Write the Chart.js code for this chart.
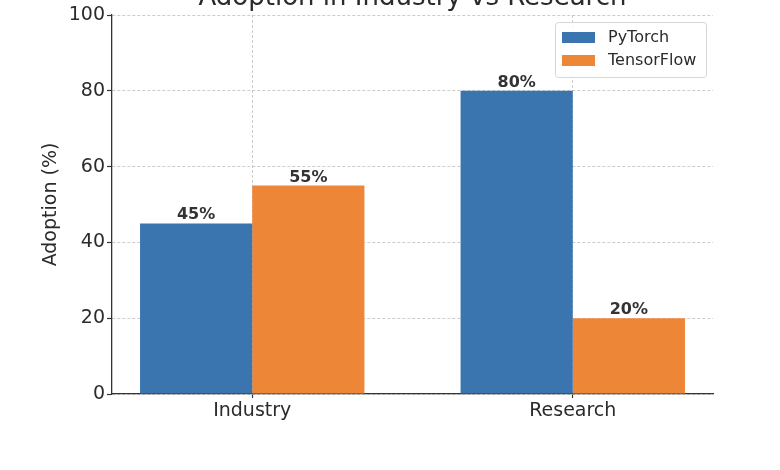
<!DOCTYPE html>
<html>
<head>
<meta charset="utf-8">
<script src="https://cdn.jsdelivr.net/npm/chart.js@4.4.0/dist/chart.umd.min.js"></script>
<style>
  html, body { margin: 0; padding: 0; background: #ffffff; }
  #wrap { width: 780px; height: 470px; }
</style>
</head>
<body>
<div id="wrap"><canvas id="adoptionChart" width="780" height="470"></canvas></div>
<script>
// categories along the x axis
const categories = ['Industry', 'Research'];
// adoption share (%) per category
const pytorchValues = [45, 80];
const tensorflowValues = [55, 20];
const seriesNames = ['PyTorch', 'TensorFlow'];
const seriesColors = ['#3a75af', '#ee8637'];
// y axis tick labels
const yTicks = [0, 20, 40, 60, 80, 100];

const chartTitle = 'Adoption in Industry vs Research';
const yTitle = 'Adoption (%)';

const FONT = '"DejaVu Sans", sans-serif';
const TEXT = '#2b2b2b';
const GRID = 'rgba(176,176,176,0.65)';

// the title sits above the canvas edge, so draw it by hand
const titlePlugin = {
  id: 'topTitle',
  afterDraw(chart) {
    const ctx = chart.ctx;
    const area = chart.chartArea;
    ctx.save();
    ctx.font = '26px ' + FONT;
    ctx.fillStyle = TEXT;
    ctx.textAlign = 'center';
    ctx.textBaseline = 'alphabetic';
    ctx.fillText(chartTitle, (area.left + area.right) / 2, 5);
    ctx.restore();
  }
};

// bold "NN%" above every bar
const valueLabels = {
  id: 'valueLabels',
  afterDatasetsDraw(chart) {
    const ctx = chart.ctx;
    ctx.save();
    ctx.font = 'bold 16px ' + FONT;
    ctx.fillStyle = '#333333';
    ctx.textAlign = 'center';
    ctx.textBaseline = 'alphabetic';
    chart.data.datasets.forEach((ds, di) => {
      const meta = chart.getDatasetMeta(di);
      meta.data.forEach((bar, i) => {
        ctx.fillText(ds.data[i].y + '%', bar.x, bar.y - 4);
      });
    });
    ctx.restore();
  }
};

// legend box inside the plot, upper right
const boxLegend = {
  id: 'boxLegend',
  afterDraw(chart) {
    const ctx = chart.ctx;
    const x0 = 555, y0 = 22, w = 151, h = 55;
    ctx.save();
    ctx.fillStyle = 'rgba(255,255,255,0.85)';
    ctx.strokeStyle = '#d6d6d6';
    ctx.lineWidth = 1;
    ctx.beginPath();
    ctx.roundRect(x0 + 0.5, y0 + 0.5, w, h, 3);
    ctx.fill();
    ctx.stroke();
    ctx.font = '16px ' + FONT;
    ctx.textBaseline = 'middle';
    ctx.textAlign = 'left';
    chart.data.datasets.forEach((ds, i) => {
      const cy = y0 + 15 + i * 23;
      ctx.fillStyle = ds.backgroundColor;
      ctx.fillRect(x0 + 7, cy - 5, 33, 11);
      ctx.fillStyle = TEXT;
      ctx.fillText(ds.label, x0 + 53, cy + 1);
    });
    ctx.restore();
  }
};

const ctx = document.getElementById('adoptionChart').getContext('2d');

new Chart(ctx, {
  type: 'bar',
  data: {
    datasets: [
      {
        label: seriesNames[0],
        data: pytorchValues.map((v, i) => ({ x: i, y: v })),
        backgroundColor: seriesColors[0],
        borderWidth: 0,
        categoryPercentage: 0.7,
        barPercentage: 1.0
      },
      {
        label: seriesNames[1],
        data: tensorflowValues.map((v, i) => ({ x: i, y: v })),
        backgroundColor: seriesColors[1],
        borderWidth: 0,
        categoryPercentage: 0.7,
        barPercentage: 1.0
      }
    ]
  },
  options: {
    responsive: false,
    animation: false,
    devicePixelRatio: 1,
    layout: { padding: { left: 12, right: 67, top: 15, bottom: 0 } },
    plugins: {
      legend: { display: false },
      title: { display: false },
      tooltip: { enabled: false }
    },
    scales: {
      x: {
        type: 'linear',
        min: -0.4375,
        max: 1.4375,
        offset: false,
        z: 1,
        afterBuildTicks: scale => {
          scale.ticks = categories.map((c, i) => ({ value: i }));
        },
        afterFit: scale => { scale.height = 76; },
        ticks: {
          callback: v => categories[v],
          font: { family: FONT, size: 19 },
          color: TEXT,
          padding: 2,
          maxRotation: 0
        },
        grid: {
          offset: false,
          color: GRID,
          lineWidth: 1,
          tickLength: 4,
          tickColor: '#333333',
          tickBorderDash: [],
          tickWidth: 1.2
        },
        border: { display: true, color: '#333333', width: 1.3, dash: [3, 2] }
      },
      y: {
        min: 0,
        max: 100,
        z: 1,
        afterBuildTicks: scale => {
          scale.ticks = yTicks.map(v => ({ value: v }));
        },
        afterFit: scale => { scale.width = 100; },
        ticks: {
          font: { family: FONT, size: 19 },
          color: TEXT,
          padding: 2
        },
        grid: {
          color: GRID,
          lineWidth: 1,
          tickLength: 5,
          tickColor: '#333333',
          tickBorderDash: [],
          tickWidth: 1.2
        },
        border: { display: true, color: '#333333', width: 1.3, dash: [3, 2] },
        title: {
          display: true,
          text: yTitle,
          font: { family: FONT, size: 19 },
          color: TEXT,
          padding: { top: 28, bottom: 0 }
        }
      }
    }
  },
  plugins: [valueLabels, titlePlugin, boxLegend]
});
</script>
</body>
</html>
